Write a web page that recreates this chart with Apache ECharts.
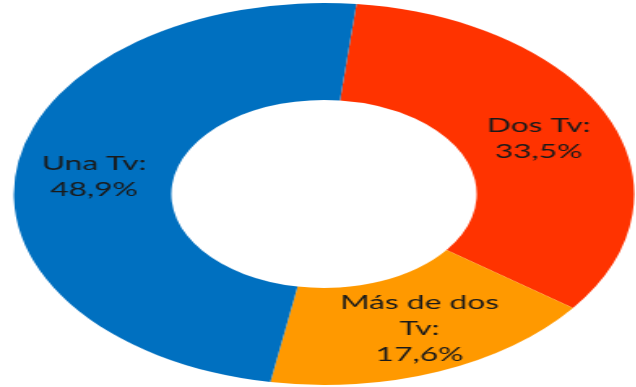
<!DOCTYPE html>
<html>
<head>
<meta charset="utf-8">
<script src="https://cdn.jsdelivr.net/npm/echarts@6/dist/echarts.min.js"></script>
<style>
  html, body { margin: 0; padding: 0; background: #fff; overflow: hidden; }
  #frame { width: 636px; height: 387px; position: relative; overflow: hidden; }
  /* the ring is drawn round, then stretched horizontally into an ellipse */
  #chart { position: absolute; left: 0; top: 0; width: 391px; height: 387px;
           transform: scaleX(1.624); transform-origin: 0 0; }
</style>
</head>
<body>
<div id="frame"><div id="chart"></div></div>
<script>
const categories = ['Dos Tv', 'Más de dos Tv', 'Una Tv'];
const shares = [33.5, 17.6, 48.9];
const labelTexts = ['Dos Tv:\n33,5%', 'Más de dos\nTv:\n17,6%', 'Una Tv:\n48,9%'];
const colors = ['#FF3300', '#FF9900', '#0070C0'];
// small nudges of each label away from the ring's mid-line
const labelNudges = [[-1, 3], [5, 0], [2.5, 3]];

const chart = echarts.init(document.getElementById('chart'), null, { renderer: 'canvas' });
chart.setOption({
  animation: false,
  series: [{
    type: 'pie',
    center: [199.5, 194],
    radius: [94, 191],
    startAngle: 84,
    clockwise: true,
    avoidLabelOverlap: false,
    label: {
      show: true,
      position: 'inside',
      color: '#1a1a1a',
      fontFamily: 'Lato, "Open Sans", sans-serif',
      fontSize: 19.5,
      lineHeight: 26,
      align: 'center',
      formatter: p => labelTexts[p.dataIndex]
    },
    labelLine: { show: false },
    itemStyle: { borderWidth: 0 },
    emphasis: { disabled: true },
    data: categories.map((c, i) => ({
      name: c, value: shares[i],
      itemStyle: { color: colors[i] },
      label: { offset: labelNudges[i] }
    }))
  }]
});
</script>
</body>
</html>
